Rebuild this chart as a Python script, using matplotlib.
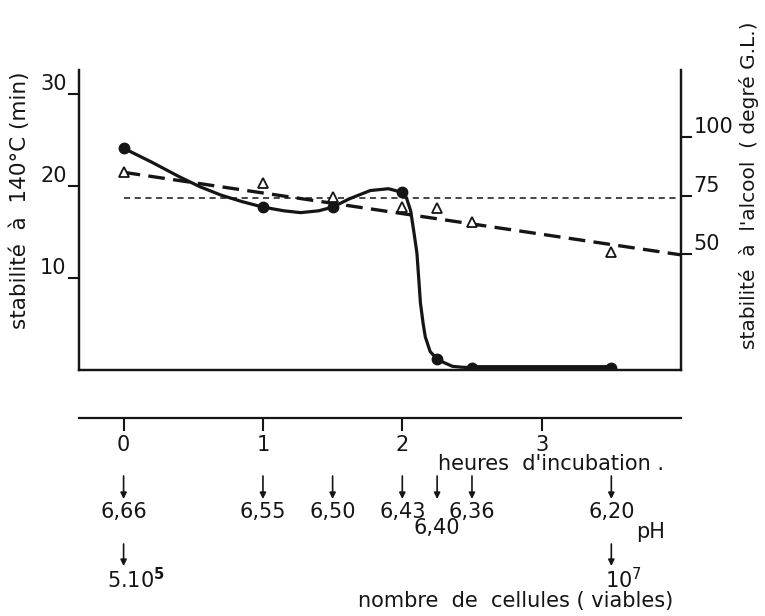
import matplotlib
matplotlib.use("Agg")
import matplotlib.pyplot as plt
import matplotlib.transforms as mtransforms

# ---- data ----
# sampling times (heures d'incubation)
hours_pts = [0, 1, 1.5, 2, 2.25, 2.5, 3.5]
# stabilite a 140 C (min), filled circles
stab_140 = [24.1, 17.7, 17.7, 19.3, 1.2, 0.25, 0.25]
# stabilite a l'alcool (degre G.L.), open triangles
stab_alcool = [85.3, 80.6, 74.6, 70.3, 69.8, 63.8, 50.9]

# hand drawn curve through the circles (traced)
curve_hours = [0, 0.2, 0.4, 0.55, 0.7, 0.85, 1.0, 1.15, 1.27, 1.4, 1.5,
               1.62, 1.77, 1.9, 2.0, 2.03, 2.06, 2.085, 2.105, 2.12, 2.13,
               2.15, 2.165, 2.2, 2.25, 2.3, 2.36, 2.43, 2.5]
curve_140 = [24.1, 22.6, 21.0, 19.9, 19.0, 18.3, 17.7, 17.3, 17.1, 17.3, 17.7,
             18.6, 19.5, 19.7, 19.3, 18.7, 17.3, 14.8, 12.7, 9.5, 7.3,
             5.0, 3.6, 2.0, 1.2, 0.8, 0.4, 0.3, 0.25]
# flat part at the end
flat_hours = [2.5, 3.5]
flat_140 = [0.25, 0.25]

# dashed trend of alcohol stability, and thin reference line
trend_hours = [0, 4.0]
trend_alcool = [85, 49.5]
ref_hours = [0, 4.0]
ref_alcool = [74, 74]

# pH measured at sampling times
ph_hours = [0, 1, 1.5, 2, 2.25, 2.5, 3.5]
ph_labels = ["6,66", "6,55", "6,50", "6,43", "6,40", "6,36", "6,20"]

# viable cell counts
cell_hours = [0, 3.5]
cell_labels = ["5.10$^{\\mathbf{5}}$", "10$^{7}$"]

hour_ticks = [0, 1, 2, 3]

INK = "#151515"
W, H = 765, 616
FS = 15

plt.rcParams["font.family"] = ["DejaVu Sans"]
fig = plt.figure(figsize=(W / 100, H / 100), dpi=100)


def fx(px):
    return px / W


def fy(py):
    # py measured from the top of the picture
    return 1 - py / H


# ---- main panel ----
ax = fig.add_axes([fx(79), fy(370), fx(681 - 79), (370 - 70) / H])
ax2 = ax.twinx()

ax.set_xlim(-0.32, 4.0)
ax.set_ylim(0, 32.6)
ax2.set_ylim(0, 129)

for a in (ax, ax2):
    a.spines["top"].set_visible(False)
    for s in ("left", "right", "bottom"):
        a.spines[s].set_linewidth(1.6)
        a.spines[s].set_color(INK)
    a.set_xticks([])

ax.set_yticks([10, 20, 30])
ax.set_yticklabels(["10", "20", "30"])
ax.tick_params(axis="y", direction="out", length=8, width=1.5, pad=1,
               labelsize=FS, colors=INK)
for lab in ax.get_yticklabels():
    lab.set_va("bottom")

ax2.set_yticks([50, 75, 100])
ax2.set_yticklabels(["50", "75", "100"])
ax2.tick_params(axis="y", direction="out", length=8, width=1.5, pad=1,
                labelsize=FS, colors=INK)
for lab in ax2.get_yticklabels():
    lab.set_va("bottom")

# curves
ax.plot(curve_hours, curve_140, color=INK, lw=2.3, solid_capstyle="round",
        solid_joinstyle="round")
ax.plot(flat_hours, flat_140, color=INK, lw=4.2)
ax.plot(hours_pts, stab_140, "o", color=INK, ms=7.5, zorder=5)

ax2.plot(trend_hours, trend_alcool, color=INK, lw=2.4, dashes=(5, 2.5))
ax2.plot(ref_hours, ref_alcool, color=INK, lw=1.1, dashes=(4, 3))
ax2.plot(hours_pts, stab_alcool, "^", mfc="white", mec=INK, mew=1.3,
         ms=7.5, zorder=5, clip_on=False)

ax.set_ylabel("stabilité  à  140°C (min)", fontsize=15.5, color=INK)
ax.yaxis.set_label_coords(fx(30 - 79) / fx(602), 0.567)
ax2.set_ylabel("stabilité  à  l'alcool  ( degré G.L.)", fontsize=14.5,
               color=INK, rotation=90)
ax2.yaxis.set_label_coords(fx(739 - 79) / fx(602), 0.617)

# ---- time axis below ----
axh = fig.add_axes([fx(79), fy(418), fx(681 - 79), 0.01])
axh.set_xlim(ax.get_xlim())
axh.set_yticks([])
for s in ("left", "right", "top"):
    axh.spines[s].set_visible(False)
axh.spines["bottom"].set_linewidth(1.6)
axh.spines["bottom"].set_color(INK)
axh.patch.set_alpha(0)
axh.set_xticks(hour_ticks)
axh.set_xticklabels([str(h) for h in hour_ticks])
axh.tick_params(axis="x", direction="out", length=9, width=1.5, pad=3,
                labelsize=FS, colors=INK)

trans = mtransforms.blended_transform_factory(ax.transData, fig.transFigure)

fig.text(fx(438), fy(464), "heures  d'incubation .", fontsize=FS,
         color=INK, ha="left", va="center")

# pH row
arrow = dict(arrowstyle="-|>", color=INK, lw=1.2, mutation_scale=9,
             shrinkA=0, shrinkB=0)
for i, (h, lab) in enumerate(zip(ph_hours, ph_labels)):
    ax.annotate("", xy=(h, fy(499)), xytext=(h, fy(476)),
                xycoords=trans, textcoords=trans, arrowprops=arrow,
                annotation_clip=False)
    ypos = 528 if i == 4 else 512
    ax.text(h, fy(ypos), lab, transform=trans, fontsize=FS, color=INK,
            ha="center", va="center")
fig.text(fx(636), fy(532), "pH", fontsize=FS, color=INK,
         ha="left", va="center")

# cell counts row
for h, lab in zip(cell_hours, cell_labels):
    ax.annotate("", xy=(h, fy(566)), xytext=(h, fy(544)),
                xycoords=trans, textcoords=trans, arrowprops=arrow,
                annotation_clip=False)
    ax.annotate(lab, xy=(h, fy(580)), xycoords=trans,
                xytext=(9, 0), textcoords="offset points",
                fontsize=FS, color=INK, ha="center", va="center")
fig.text(fx(673), fy(601), "nombre  de  cellules ( viables)", fontsize=FS,
         color=INK, ha="right", va="center")

fig.savefig("out.png", dpi=100, facecolor="white")
